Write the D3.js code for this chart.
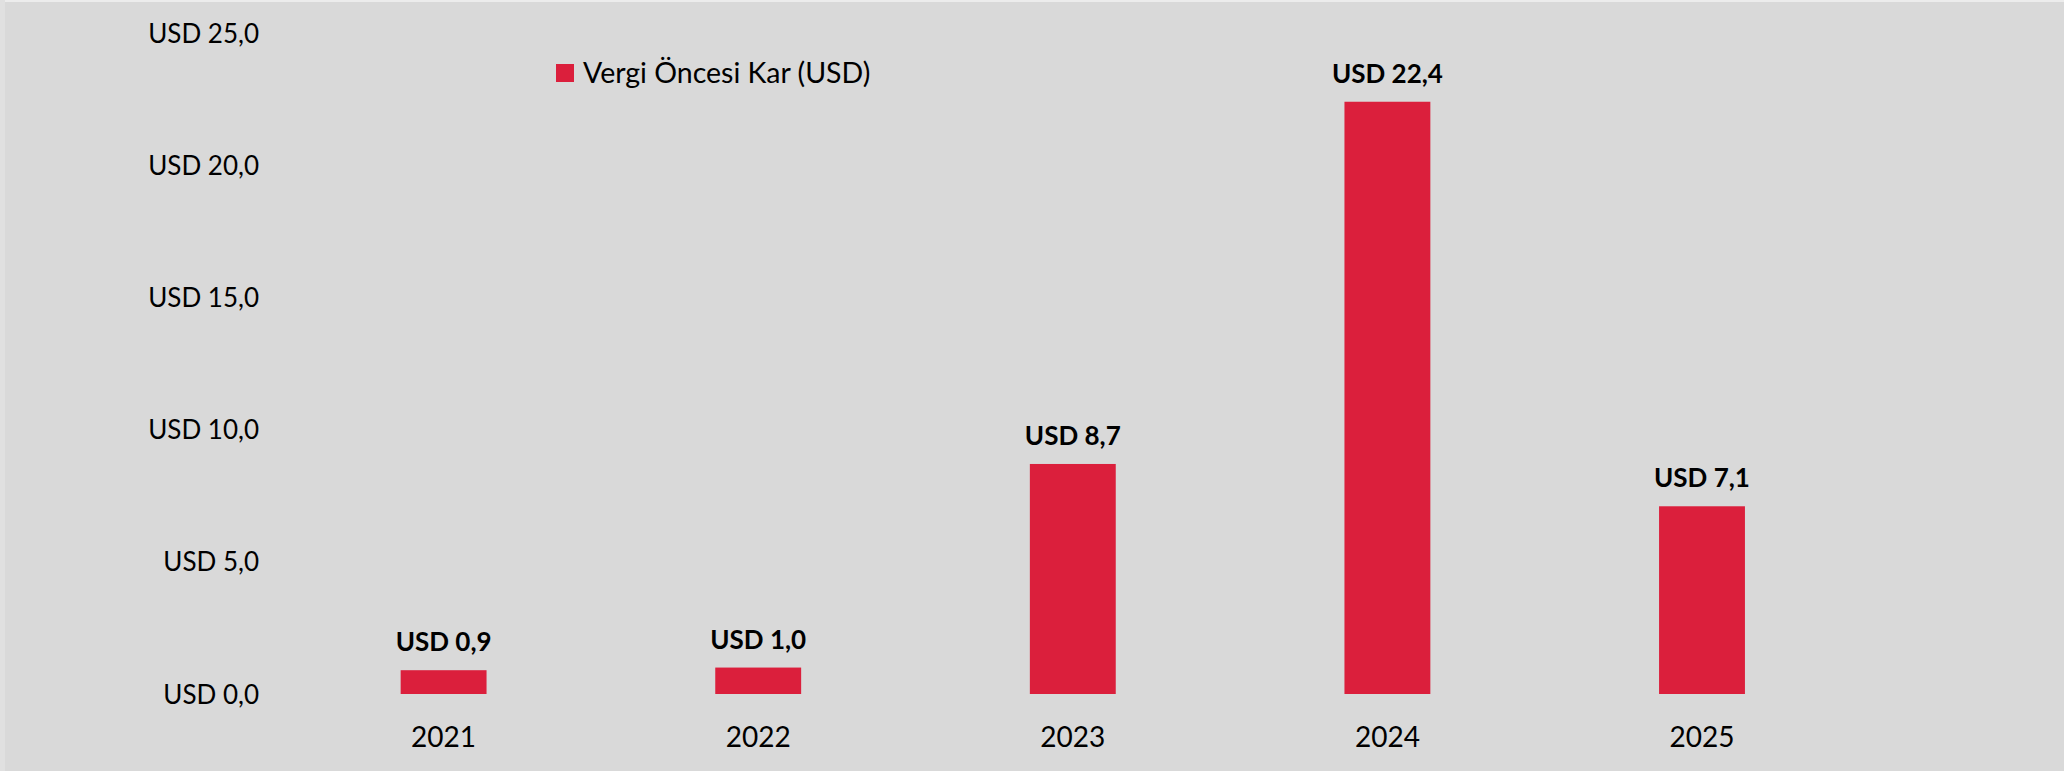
<!DOCTYPE html>
<html>
<head>
<meta charset="utf-8">
<script src="https://cdn.jsdelivr.net/npm/d3@7"></script>
<style>
  html, body { margin: 0; padding: 0; background: #d9d9d9; }
  svg { display: block; }
  text { font-family: Lato, "Open Sans", sans-serif; fill: #000; }
</style>
</head>
<body>
<svg id="chart" width="2064" height="771"></svg>
<script>
// Pre-tax profit by year (USD)
const years = ["2021", "2022", "2023", "2024", "2025"];
const profit = [0.9, 1.0, 8.7, 22.4, 7.1];
const yTicks = [0, 5, 10, 15, 20, 25];
const seriesName = "Vergi Öncesi Kar (USD)";

const W = 2064, H = 771;
const barColor = "#db1f3c";

const trLocale = d3.formatLocale({ decimal: ",", thousands: ".", grouping: [3], currency: ["", ""] });
const fmt1 = trLocale.format(".1f");
const usd = v => "USD " + fmt1(v);

const svg = d3.select("#chart");

// background with the lighter edge strips
svg.append("rect").attr("x", 0).attr("y", 0).attr("width", W).attr("height", H).attr("fill", "#d9d9d9");
svg.append("rect").attr("x", 0).attr("y", 0).attr("width", W).attr("height", 2).attr("fill", "#ececec");
svg.append("rect").attr("x", 0).attr("y", 0).attr("width", 5).attr("height", H).attr("fill", "#e0e0e0");

const x = d3.scaleBand()
  .domain(years)
  .range([286.3, 1859.3])
  .paddingInner(0.727)
  .paddingOuter(0.3635);

const y = d3.scaleLinear()
  .domain([0, 25])
  .range([694, 33]);

// y axis: labels only
const yAxis = svg.append("g")
  .attr("transform", "translate(259,0)")
  .call(d3.axisLeft(y).tickValues(yTicks).tickFormat(usd).tickSize(0).tickPadding(0));
yAxis.select(".domain").remove();
yAxis.selectAll("text")
  .attr("font-family", "Lato, 'Open Sans', sans-serif")
  .attr("font-size", 26)
  .attr("fill", "#000")
  .attr("dy", "0.35em");

// x axis: year labels
const xAxis = svg.append("g")
  .attr("transform", "translate(0,694)")
  .call(d3.axisBottom(x).tickSize(0).tickPadding(0));
xAxis.select(".domain").remove();
xAxis.selectAll("text")
  .attr("font-family", "Lato, 'Open Sans', sans-serif")
  .attr("font-size", 28)
  .attr("fill", "#000")
  .attr("y", 52.7)
  .attr("dy", 0);

// bars
svg.append("g").selectAll("rect")
  .data(years)
  .join("rect")
  .attr("x", d => x(d))
  .attr("width", x.bandwidth())
  .attr("y", (d, i) => y(profit[i]))
  .attr("height", (d, i) => y(0) - y(profit[i]))
  .attr("fill", barColor);

// value labels
svg.append("g").selectAll("text")
  .data(years)
  .join("text")
  .attr("x", d => x(d) + x.bandwidth() / 2)
  .attr("y", (d, i) => y(profit[i]) - 19)
  .attr("text-anchor", "middle")
  .attr("font-size", 26)
  .attr("font-weight", "bold")
  .text((d, i) => usd(profit[i]));

// legend
const legend = svg.append("g").attr("transform", "translate(556,64)");
legend.append("rect").attr("width", 18).attr("height", 18).attr("fill", barColor);
legend.append("text")
  .attr("x", 27)
  .attr("y", 9)
  .attr("dy", "0.35em")
  .attr("font-size", 28.5)
  .text(seriesName);
</script>
</body>
</html>
